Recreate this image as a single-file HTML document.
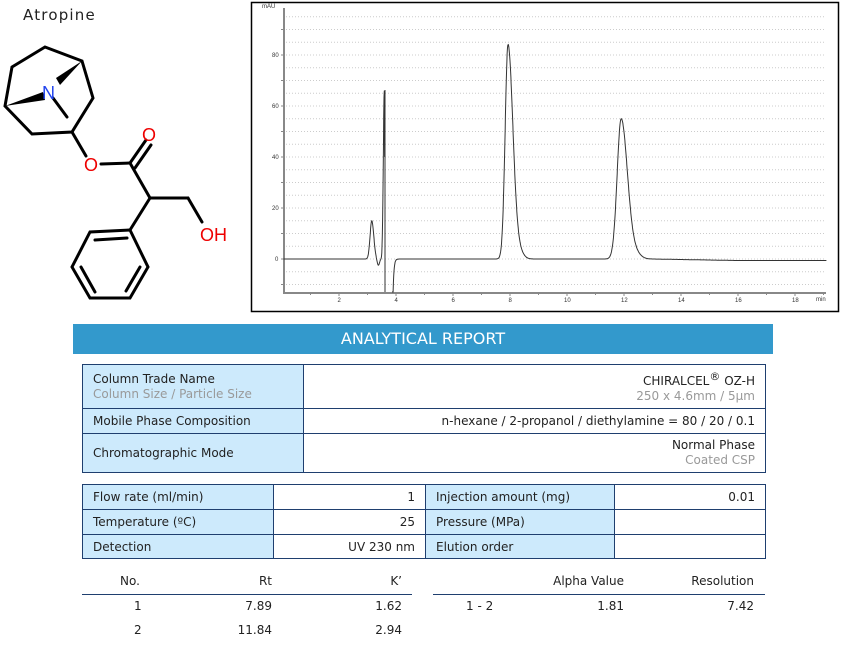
<!DOCTYPE html>
<html><head><meta charset="utf-8">
<style>
body{margin:0;background:#fff;width:849px;height:646px;overflow:hidden;position:relative;font-family:"DejaVu Sans","Liberation Sans",sans-serif;font-size:12px;color:#222}
.abs{position:absolute}
table{border-collapse:collapse;position:absolute}
td{border:1px solid #1f3f6f;padding:0 10px;font-size:12px;white-space:nowrap}
td.l{background:#cdeafc}
td.r{text-align:right}
.g{color:#999}
</style></head><body>
<div class="abs" style="left:23px;top:6px;font-size:15px;letter-spacing:1.2px;font-family:'DejaVu Sans',sans-serif">Atropine</div>
<svg class="abs" style="left:0;top:0" width="250" height="310">
<g stroke="#000" stroke-width="3" fill="none" stroke-linecap="round">
<polyline points="12,67 45,47 82,61 93,98 72,132 32,134 5,106 12,67"/>
<line x1="53" y1="98" x2="67" y2="117"/>
<line x1="72" y1="132" x2="86" y2="156"/>
<line x1="101" y1="164" x2="130" y2="163"/>
<line x1="130" y1="163" x2="146" y2="140"/>
<line x1="135" y1="168" x2="151" y2="145"/>
<line x1="130" y1="163" x2="150" y2="198"/>
<line x1="150" y1="198" x2="188" y2="198"/>
<line x1="188" y1="198" x2="202" y2="222"/>
<line x1="150" y1="198" x2="130" y2="230"/>
<polygon points="130,230 90,232 72,267 90,298 130,298 148,267"/>
<line x1="95" y1="240" x2="127" y2="238"/>
<line x1="81" y1="267" x2="95" y2="292"/>
<line x1="126" y1="291" x2="140" y2="267"/>
</g>
<polygon points="5,106 43,92 45,100" fill="#000"/>
<polygon points="82,61 56,78 60,85" fill="#000"/>
<text x="42" y="99" font-family="Liberation Sans,sans-serif" font-size="18" fill="#2244ee">N</text>
<text x="142" y="141" font-family="Liberation Sans,sans-serif" font-size="18" fill="#ee0000">O</text>
<text x="84" y="171" font-family="Liberation Sans,sans-serif" font-size="18" fill="#ee0000">O</text>
<text x="200" y="241" font-family="Liberation Sans,sans-serif" font-size="18" fill="#ee0000">OH</text>
</svg>
<svg class="abs" style="left:0;top:0" width="849" height="320" id="ch">
<rect x="251.5" y="2.5" width="587" height="309" fill="none" stroke="#000" stroke-width="1.5"/>
<g id="grid" stroke="#ccc" stroke-dasharray="1,2" stroke-width="1"></g>
<line x1="284" y1="8" x2="284" y2="293" stroke="#888" stroke-width="2"/>
<line x1="283" y1="293" x2="826" y2="293" stroke="#888" stroke-width="2"/>
<g id="ticks" stroke="#888"></g>
<g font-family="Liberation Sans,sans-serif" font-size="6" fill="#333" id="lbl">
<text x="262" y="8">mAU</text>
</g>
<path id="tr" fill="none" stroke="#333" stroke-width="1"/>
</svg>
<script>
(function(){
var ns="http://www.w3.org/2000/svg";
function X(t){return 282+28.5*t}function Y(v){return 259-2.55*v}
var g=document.getElementById('grid'),tk=document.getElementById('ticks'),lb=document.getElementById('lbl');
for(var v=-10;v<=95;v+=5){var l=document.createElementNS(ns,'line');l.setAttribute('x1',286);l.setAttribute('x2',826);l.setAttribute('y1',Y(v));l.setAttribute('y2',Y(v));g.appendChild(l);}
for(var v=0;v<=80;v+=20){var t=document.createElementNS(ns,'text');t.setAttribute('x',v?272:275);t.setAttribute('y',Y(v)+2);t.textContent=v;lb.appendChild(t);}
for(var v=-10;v<=95;v+=10){var l=document.createElementNS(ns,'line');l.setAttribute('x1',281);l.setAttribute('x2',284);l.setAttribute('y1',Y(v));l.setAttribute('y2',Y(v));tk.appendChild(l);}
for(var m=1;m<=19;m++){var l=document.createElementNS(ns,'line');l.setAttribute('x1',X(m));l.setAttribute('x2',X(m));l.setAttribute('y1',293);l.setAttribute('y2',m%2?295:296);tk.appendChild(l);}
for(var m=2;m<=18;m+=2){var t=document.createElementNS(ns,'text');t.setAttribute('x',X(m)-(m<10?1.5:3));t.setAttribute('y',302);t.textContent=m;lb.appendChild(t);}
var t=document.createElementNS(ns,'text');t.setAttribute('x',816);t.setAttribute('y',301);t.textContent='min';lb.appendChild(t);
function pk(t,c,h,s1,s2){var s=t<c?s1:s2;return h*Math.exp(-0.5*Math.pow((t-c)/s,2));}
function val(t){
 var v=0;
 if(t>13)v=-0.6*Math.min(1,(t-13)/3);
 v+=pk(t,3.15,15,0.06,0.07)-pk(t,3.38,2.5,0.04,0.04)+pk(t,7.93,84,0.1,0.17)+pk(t,11.9,55,0.14,0.22);
 if(t>7.93)v+=3*Math.exp(-Math.pow(t-8.3,2)/0.05);
 if(t>11.9)v+=2*Math.exp(-Math.pow(t-12.4,2)/0.07);
 if(t<3.62)v+=pk(t,3.59,66,0.035,0.01);
 if(t>=3.9&&t<4.3)v-=13*Math.exp(-(t-3.9)/0.03);
 return v;
}
var d='';
for(var i=5;i<=360;i++){var t=i/100;d+=(d?'L':'M')+X(t).toFixed(1)+','+Y(val(t)).toFixed(1);}
d+='L385,90L385,292M392,292';
for(var i=390;i<=1910;i++){var t=i/100;d+='L'+X(t).toFixed(1)+','+Math.min(292,Y(val(t))).toFixed(1);}
document.getElementById('tr').setAttribute('d',d);
})();
</script>
<div class="abs" style="left:73px;top:324px;width:700px;height:30px;background:#3399cc;color:#fff;font-size:16px;line-height:30px;text-align:center">ANALYTICAL REPORT</div>
<table style="left:82px;top:364px;width:684px">
<tr style="height:44px"><td class="l" style="width:200px;line-height:15px">Column Trade Name<br><span class="g">Column Size / Particle Size</span></td><td class="r" style="line-height:15px">CHIRALCEL<sup style="font-size:11px">®</sup> OZ-H<br><span class="g">250 x 4.6mm / 5µm</span></td></tr>
<tr style="height:25px"><td class="l">Mobile Phase Composition</td><td class="r">n-hexane / 2-propanol / diethylamine = 80 / 20 / 0.1</td></tr>
<tr style="height:39px"><td class="l">Chromatographic Mode</td><td class="r" style="line-height:15px">Normal Phase<br><span class="g">Coated CSP</span></td></tr>
</table>
<table style="left:82px;top:484px;width:684px">
<tr style="height:25px"><td class="l" style="width:170px">Flow rate (ml/min)</td><td class="r" style="width:131px">1</td><td class="l" style="width:168px">Injection amount (mg)</td><td class="r">0.01</td></tr>
<tr style="height:25px"><td class="l">Temperature (ºC)</td><td class="r">25</td><td class="l">Pressure (MPa)</td><td class="r"></td></tr>
<tr style="height:24px"><td class="l">Detection</td><td class="r">UV 230 nm</td><td class="l">Elution order</td><td class="r"></td></tr>
</table>
<div class="abs" style="left:82px;top:594px;width:330px;height:1px;background:#1f3f6f"></div>
<div class="abs" style="left:433px;top:594px;width:332px;height:1px;background:#1f3f6f"></div>
<div class="abs" style="left:120px;top:574px">No.</div>
<div class="abs" style="left:172px;width:100px;text-align:right;top:574px">Rt</div>
<div class="abs" style="left:302px;width:100px;text-align:right;top:574px">K’</div>
<div class="abs" style="left:500px;width:124px;text-align:right;top:574px">Alpha Value</div>
<div class="abs" style="left:654px;width:100px;text-align:right;top:574px">Resolution</div>
<div class="abs" style="left:134px;top:599px">1</div>
<div class="abs" style="left:172px;width:100px;text-align:right;top:599px">7.89</div>
<div class="abs" style="left:302px;width:100px;text-align:right;top:599px">1.62</div>
<div class="abs" style="left:466px;top:599px">1 - 2</div>
<div class="abs" style="left:524px;width:100px;text-align:right;top:599px">1.81</div>
<div class="abs" style="left:654px;width:100px;text-align:right;top:599px">7.42</div>
<div class="abs" style="left:134px;top:623px">2</div>
<div class="abs" style="left:172px;width:100px;text-align:right;top:623px">11.84</div>
<div class="abs" style="left:302px;width:100px;text-align:right;top:623px">2.94</div>
</body></html>
